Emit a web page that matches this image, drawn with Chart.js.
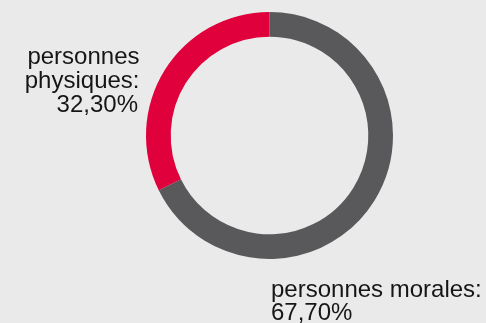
<!DOCTYPE html>
<html>
<head>
<meta charset="utf-8">
<script src="https://cdn.jsdelivr.net/npm/chart.js@4.4.0/dist/chart.umd.min.js"></script>
<style>
    html, body { margin: 0; padding: 0; background: #e9eae9; }
    #wrap { width: 486px; height: 323px; }
</style>
</head>
<body>
<div id="wrap"><canvas id="graficoRepartition" width="486" height="323"></canvas></div>
<script>
// données
const categories = ['personnes morales', 'personnes physiques'];
const valeurs = [67.7, 32.3];
const couleurs = ['#59595b', '#e0003b'];

// lignes des étiquettes (texte seulement)
const etiquetteMorales = ['personnes morales:', '67,70%'];
const etiquettePhysiques = ['personnes', 'physiques:', '32,30%'];

const pluginEtiquettes = {
    id: 'etiquettes',
    afterDraw(chart) {
        const ctx = chart.ctx;
        ctx.save();
        ctx.fillStyle = '#161616';
        ctx.font = '24px "Liberation Sans", Arial, sans-serif';
        ctx.textBaseline = 'alphabetic';

        ctx.textAlign = 'right';
        const basesPhys = [64, 87.5, 111.5];
        etiquettePhysiques.forEach((ligne, i) => {
            ctx.fillText(ligne, i === 2 ? 138 : 139.5, basesPhys[i]);
        });

        ctx.textAlign = 'left';
        const basesMor = [296.5, 320];
        etiquetteMorales.forEach((ligne, i) => {
            ctx.fillText(ligne, 271, basesMor[i]);
        });
        ctx.restore();
    }
};

new Chart(document.getElementById('graficoRepartition').getContext('2d'), {
    type: 'doughnut',
    data: {
        labels: categories,
        datasets: [{
            data: valeurs,
            backgroundColor: couleurs,
            borderWidth: 0
        }]
    },
    options: {
        responsive: false,
        animation: false,
        cutout: '80%',
        layout: {
            padding: { top: 12, bottom: 64, left: 146, right: 93 }
        },
        plugins: {
            legend: { display: false },
            tooltip: { enabled: false }
        }
    },
    plugins: [pluginEtiquettes]
});
</script>
</body>
</html>
